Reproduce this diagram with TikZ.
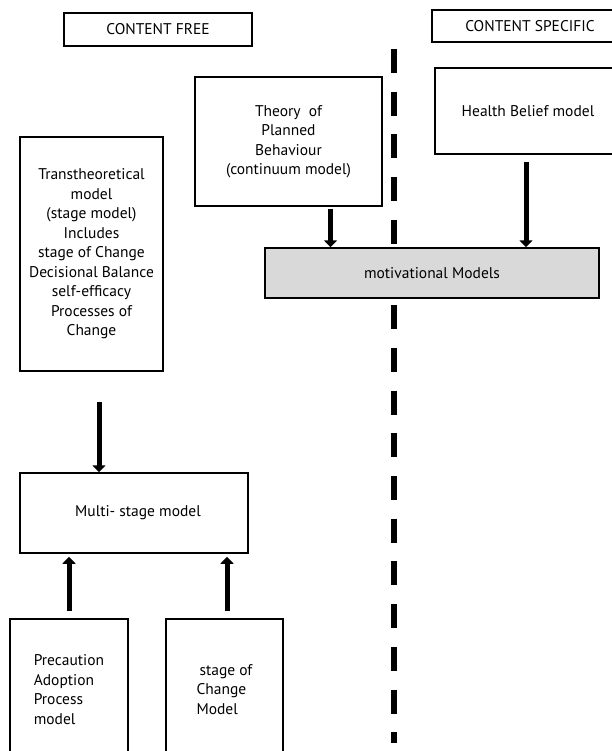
\documentclass[tikz,border=0pt]{standalone}
\usepackage{fontspec}
\setmainfont{PT Sans}
\usepackage{tikz}
\usetikzlibrary{arrows.meta}
\tikzset{
  mbox/.style={draw=black,line width=1.5pt,inner sep=2pt,align=center,
    font=\fontsize{15.5}{19.5}\selectfont},
  hdr/.style={mbox,line width=1.3pt},
  motbox/.style={mbox,fill=black!15},
  thk/.style={-{Triangle[width=13pt,length=7pt]},line width=5pt}, % fat arrow
  divider/.style={line width=6.5pt,dash pattern=on 24pt off 18.7pt}, % free | specific
}

\begin{document}
\begin{tikzpicture}[x=1pt,y=-1pt]
  \useasboundingbox (0,0) rectangle (612,751);
  \clip (0,0) rectangle (612,751);
  % dividing line
  \draw[divider] (394,49) -- (394,743);
  % headers
  \node[hdr,minimum width=188pt,minimum height=33pt] (cfree) at (158,29.5) {CONTENT FREE};
  \node[hdr,minimum width=196pt,minimum height=32pt] (cspec) at (530,26) {CONTENT SPECIFIC};
  % top models
  \node[mbox,minimum width=187pt,minimum height=129pt] (tpb) at (288.5,141.5)
    {Theory~ of\\ Planned\\ Behaviour\\ (continuum model)};
  \node[mbox,minimum width=186pt,minimum height=86pt] (hbm) at (528,111) {Health Belief model};
  \node[mbox,minimum width=143pt,minimum height=234pt] (ttm) at (91.5,254)
    {Transtheoretical\\ model\\ (stage model)\\ Includes\\ stage of Change\\
     Decisional Balance\\ self-efficacy\\ Processes of\\ Change};
  \node[motbox,minimum width=334pt,minimum height=50pt] (motiv) at (432,273) {motivational Models};
  % stage models
  \node[mbox,minimum width=228pt,minimum height=80pt] (multi) at (134,513) {\hspace{8pt}Multi- stage model};
  \node[mbox,align=left,minimum width=118pt,minimum height=141pt] (pap) at (69,689.5)
    {Precaution\\ Adoption\\ Process\\ model};
  \node[mbox,align=left,minimum width=117pt,minimum height=141pt] (soc) at (224.5,689.5)
    {\hspace{3pt}stage of\\ Change\\ Model};
  % arrows
  \draw[thk,shorten <=2pt] ([xshift=42pt]tpb.south) -- ([xshift=42pt]tpb.south |- motiv.north);
  \draw[thk,shorten <=7pt] ([xshift=-2pt]hbm.south) -- ([xshift=-2pt]hbm.south |- motiv.north);
  \draw[thk,shorten <=30pt] ([xshift=7.5pt]ttm.south) -- ([xshift=7.5pt]ttm.south |- multi.north);
  \draw[thk,shorten <=7pt,shorten >=3pt] (pap.north) -- (pap.north |- multi.south);
  \draw[thk,shorten <=7pt,shorten >=3pt] ([xshift=2.5pt]soc.north) -- ([xshift=2.5pt]soc.north |- multi.south);
\end{tikzpicture}
\end{document}
